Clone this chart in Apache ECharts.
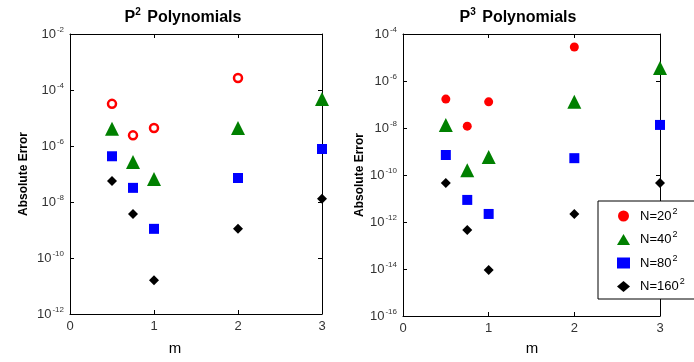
<!DOCTYPE html>
<html>
<head>
<meta charset="utf-8">
<script src="https://cdn.jsdelivr.net/npm/echarts@6/dist/echarts.min.js"></script>
<style>
html,body{margin:0;padding:0;background:#fff;}
#chart{width:694px;height:362px;}
</style>
</head>
<body>
<div id="chart"></div>
<script>
// ---- data ----
var mValues = [0.5, 0.75, 1, 2, 3];
var seriesNames = ['N=20^2', 'N=40^2', 'N=80^2', 'N=160^2'];
var legendLabels = ['N=20', 'N=40', 'N=80', 'N=160'];

// P2 polynomials (left)
var p2_N20  = [3.2e-5, 2.4e-6, 4.4e-6, 2.7e-4, null];
var p2_N40  = [4.1e-6, 2.7e-7, 6.6e-8, 4.4e-6, 4.8e-5];
var p2_N80  = [4.3e-7, 3.2e-8, 1.1e-9, 7.2e-8, 7.8e-7];
var p2_N160 = [5.6e-8, 3.7e-9, 1.6e-11, 1.1e-9, 1.3e-8];

// P3 polynomials (right)
var p3_N20  = [1.7e-7, 1.2e-8, 1.3e-7, 2.8e-5, null];
var p3_N40  = [1.35e-8, 1.6e-10, 5.9e-10, 1.3e-7, 3.6e-6];
var p3_N80  = [7.1e-10, 8.7e-12, 2.2e-12, 5.2e-10, 1.35e-8];
var p3_N160 = [4.6e-11, 4.6e-13, 9.1e-15, 2.2e-12, 4.6e-11];

// axis ticks
var xTicks = [0, 1, 2, 3];
var yExpLeft = [-12, -10, -8, -6, -4, -2];
var yExpRight = [-16, -14, -12, -10, -8, -6, -4];

var titles = ['P{s|2} Polynomials', 'P{s|3} Polynomials'];

function pts(arr) {
  var out = [];
  for (var i = 0; i < mValues.length; i++) {
    if (arr[i] != null) out.push([mValues[i], arr[i]]);
  }
  return out;
}

var supRich = { s: { fontSize: 8, padding: [0, 0, 9, 1], fontFamily: 'Liberation Sans', color: '#333' } };

function yLabel(v) {
  var e = Math.round(Math.log10(v));
  return '10{s|' + e + '}';
}

var grids = [
  { left: 70, top: 34, width: 252, height: 280 },
  { left: 403, top: 34, width: 257, height: 282 }
];

var xAxes = [], yAxes = [];
[0, 1].forEach(function (g) {
  xAxes.push({
    type: 'value', gridIndex: g, min: xTicks[0], max: xTicks[xTicks.length - 1], interval: 1,
    position: 'bottom',
    axisLine: { show: true, lineStyle: { color: '#000', width: 1 } },
    axisTick: { show: true, inside: true, length: 4, lineStyle: { color: '#000' } },
    axisLabel: { color: '#333', fontSize: 13, fontFamily: 'Liberation Sans', margin: 6 },
    splitLine: { show: false }
  });
  xAxes.push({
    type: 'value', gridIndex: g, min: xTicks[0], max: xTicks[xTicks.length - 1], interval: 1,
    position: 'top',
    axisLine: { show: true, onZero: false, lineStyle: { color: '#000', width: 1 } },
    axisTick: { show: true, inside: true, length: 4, lineStyle: { color: '#000' } },
    axisLabel: { show: false },
    splitLine: { show: false }
  });
  var ex = g === 0 ? yExpLeft : yExpRight;
  var ymin = Math.pow(10, ex[0]), ymax = Math.pow(10, ex[ex.length - 1]);
  yAxes.push({
    type: 'log', logBase: 10, gridIndex: g, min: ymin, max: ymax, interval: 2,
    position: 'left',
    name: 'Absolute Error', nameLocation: 'middle', nameGap: g === 0 ? 40 : 35,
    nameTextStyle: { fontSize: 12, fontWeight: 'bold', color: '#000', fontFamily: 'Liberation Sans' },
    axisLine: { show: true, lineStyle: { color: '#000', width: 1 } },
    axisTick: { show: true, inside: true, length: 4, lineStyle: { color: '#000' } },
    axisLabel: { color: '#333', fontSize: 13, fontFamily: 'Liberation Sans', margin: 6, formatter: yLabel, rich: supRich },
    minorTick: { show: false },
    splitLine: { show: false }
  });
  yAxes.push({
    type: 'log', logBase: 10, gridIndex: g, min: ymin, max: ymax, interval: 2,
    position: 'right',
    axisLine: { show: true, onZero: false, lineStyle: { color: '#000', width: 1 } },
    axisTick: { show: true, inside: true, length: 4, lineStyle: { color: '#000' } },
    axisLabel: { show: false },
    splitLine: { show: false }
  });
});

var styles = [
  { symbol: 'circle', size: 9, color: '#ff0000' },
  { symbol: 'triangle', size: 14, color: '#008000' },
  { symbol: 'rect', size: 10, color: '#0000ff' },
  { symbol: 'diamond', size: 10, color: '#000000' }
];

var leftData = [p2_N20, p2_N40, p2_N80, p2_N160];
var rightData = [p3_N20, p3_N40, p3_N80, p3_N160];

var series = [];
rightData.forEach(function (d, i) {
  series.push({
    name: seriesNames[i], type: 'scatter', xAxisIndex: 2, yAxisIndex: 2,
    symbol: styles[i].symbol, symbolSize: styles[i].size,
    itemStyle: { color: styles[i].color, opacity: 1 },
    data: pts(d), z: 3
  });
});
leftData.forEach(function (d, i) {
  var st = { color: styles[i].color, opacity: 1 };
  var size = styles[i].size;
  if (i === 0) { st = { color: '#ffffff', borderColor: '#ff0000', borderWidth: 2.5, opacity: 1 }; size = 8; }
  series.push({
    name: seriesNames[i], type: 'scatter', xAxisIndex: 0, yAxisIndex: 0,
    symbol: styles[i].symbol, symbolSize: size,
    itemStyle: st,
    data: pts(d), z: 3
  });
});

var chart = echarts.init(document.getElementById('chart'), null, { renderer: 'canvas' });
chart.setOption({
  backgroundColor: '#fff',
  animation: false,
  title: [
    { text: titles[0], left: 178, top: 2, textAlign: 'center',
      textStyle: { fontSize: 16, fontWeight: 'bold', color: '#000', fontFamily: 'Liberation Sans',
        rich: { s: { fontSize: 10, padding: [0, 2, 12, 0], color: '#000', fontFamily: 'Liberation Sans' } } } },
    { text: titles[1], left: 513, top: 2, textAlign: 'center',
      textStyle: { fontSize: 16, fontWeight: 'bold', color: '#000', fontFamily: 'Liberation Sans',
        rich: { s: { fontSize: 10, padding: [0, 2, 12, 0], color: '#000', fontFamily: 'Liberation Sans' } } } },
    { text: 'm', left: 170, top: 336, textAlign: 'center',
      textStyle: { fontSize: 15, fontWeight: 'normal', color: '#000', fontFamily: 'Liberation Sans' } },
    { text: 'm', left: 527, top: 336, textAlign: 'center',
      textStyle: { fontSize: 15, fontWeight: 'normal', color: '#000', fontFamily: 'Liberation Sans' } }
  ],
  legend: {
    orient: 'vertical', left: 598, top: 201,
    padding: [6, 40, 6, 19], itemGap: 8,
    itemWidth: 13, itemHeight: 11,
    backgroundColor: '#fff', borderColor: '#000', borderWidth: 1, borderRadius: 0,
    data: seriesNames.map(function (n, i) {
      return { name: n, icon: styles[i].symbol, itemStyle: { color: styles[i].color, borderWidth: 0 } };
    }),
    formatter: function (name) {
      var i = seriesNames.indexOf(name);
      return legendLabels[i] + '{s|2}';
    },
    textStyle: { fontSize: 13, color: '#000', fontFamily: 'Liberation Sans', padding: [0, 0, 0, 5],
      rich: { s: { fontSize: 9, padding: [0, 0, 9, 1], color: '#000', fontFamily: 'Liberation Sans' } } }
  },
  grid: grids,
  xAxis: xAxes,
  yAxis: yAxes,
  series: series
});
</script>
</body>
</html>
